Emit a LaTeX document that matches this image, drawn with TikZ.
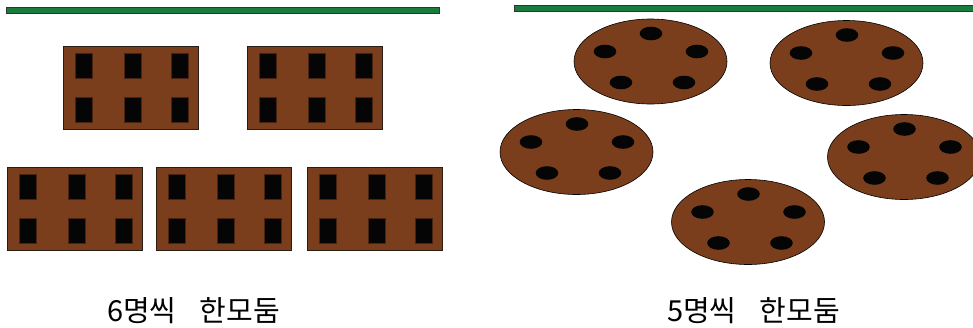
\documentclass[tikz,border=0pt]{standalone}
\usepackage{fontspec}
\newfontfamily\krfont{Noto Sans CJK KR}
\definecolor{cbrown}{RGB}{122,62,28}
\definecolor{cgreen}{RGB}{26,124,60}
\definecolor{cedge}{RGB}{40,28,20}
\definecolor{chip}{RGB}{5,5,5}
\tikzset{
  bar/.style={fill=cgreen, draw=black!80, line width=0.7pt},
  tablebox/.style={fill=cbrown, draw=cedge, line width=0.8pt},
  seat/.style={fill=chip, draw=cbrown!60!black, line width=0.4pt},
  cookie/.style={fill=cbrown, draw=black, line width=0.6pt},
  dot/.style={fill=chip, draw=none},
  label/.style={font=\krfont\fontsize{29}{31}\selectfont, inner sep=0pt, anchor=base west}
}
\begin{document}
\begin{tikzpicture}[x=1pt,y=-1pt]
\useasboundingbox (0,0) rectangle (973,327);
% green bars
\draw[bar] (6,7) rectangle (439,13);
\draw[bar] (514,5) rectangle (980,11);
% tables with six seats
\foreach \tx/\ty in {63/46, 247/46, 7/167, 156/167, 307/167}{
  \draw[tablebox] (\tx,\ty) rectangle ++(135.5,83);
  \foreach \sx in {12,61,108}{
    \foreach \sy in {7.5,51.5}{
      \draw[seat] (\tx+\sx,\ty+\sy) rectangle ++(17,24.5);
    }
  }
}
% round tables with five seats
\foreach \cx/\cy in {650.5/61.5, 846.5/63, 576.5/152, 904/157, 748/222}{
  \draw[cookie] (\cx,\cy) ellipse [x radius=76.5, y radius=42.5];
  \foreach \dx/\dy in {0.5/-28, -45.5/-10, 46.5/-10, -29.5/21, 33.5/21}{
    \fill[dot] (\cx+\dx,\cy+\dy) ellipse [x radius=11.3, y radius=6.8];
  }
}
% labels
\node[label] (l6) at (107,321) {6명씩\hspace{0.8em}한모둠};
\node[label] (l5) at (667,321) {5명씩\hspace{0.8em}한모둠};
\end{tikzpicture}
\end{document}
